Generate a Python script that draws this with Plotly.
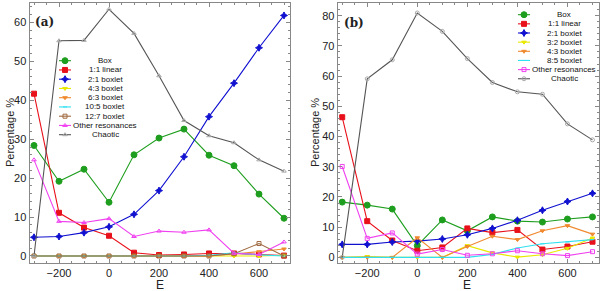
import plotly.graph_objects as go

E = [-300, -200, -100, 0, 100, 200, 300, 400, 500, 600, 700]

# Panel (a)
box_a = [28.4, 19.2, 22.3, 13.8, 26.0, 30.3, 32.6, 25.9, 23.2, 15.9, 9.7]
lin11_a = [41.7, 11.1, 7.3, 5.2, 0.85, 0.25, 0.4, 0.65, 0.65, 0.4, 0.1]
b21_a = [4.8, 5.0, 6.0, 7.5, 10.7, 16.8, 25.5, 35.8, 44.4, 53.5, 61.8]
b43_a = [0, 0, 0, 0, 0, 0, 0, 0, 0, 0, 0.2]
b63_a = [0, 0, 0, 0, 0, 0, 0, 0, 0.5, 1.1, 1.8]
b105_a = [0, 0, 0, 0, 0, 0, 0, 0.2, 0.8, 0.3, 0]
b127_a = [0, 0, 0, 0, 0, 0, 0, 0, 0.6, 3.2, 0]
other_a = [24.7, 8.9, 8.6, 9.6, 5.0, 6.4, 6.1, 6.7, 0.7, 0.4, 3.6]
chaotic_a = [0, 55.3, 55.4, 63.4, 57.2, 46.3, 34.8, 30.9, 29.1, 24.7, 21.8]

# Panel (b)
box_b = [18.3, 17.3, 16.0, 3.9, 12.4, 8.8, 13.4, 12.0, 11.7, 12.7, 13.4]
lin11_b = [46.4, 12.0, 5.6, 2.2, 3.3, 9.6, 8.2, 9.1, 2.6, 3.6, 5.2]
b21_b = [4.3, 4.3, 5.1, 5.4, 6.1, 7.5, 9.6, 12.3, 15.6, 18.5, 21.2]
b32_b = [0, 0.3, 0, 0, 0, 3.9, 1.5, 0.1, 0.9, 3.0, 6.4]
b43_b = [0, 0, 0, 6.5, 0, 3.6, 7.0, 5.9, 8.8, 10.5, 7.7]
b85_b = [0, 0, 0, 0, 0, 0, 1.0, 3.1, 4.5, 5.1, 5.9]
other_b = [30.1, 6.3, 8.1, 1.1, 2.6, 0.7, 1.2, 2.2, 1.2, 0.6, 1.9]
chaotic_b = [0, 59.1, 65.4, 80.9, 74.8, 65.8, 57.9, 54.8, 54.0, 44.2, 38.9]

GREEN = "#1e9e1e"
RED = "#e8101a"
BLUE = "#1010d0"
YELLOW = "#e8e800"
ORANGE = "#f08a30"
CYAN = "#30e0f0"
BROWN = "#a06a40"
MAGENTA = "#f040f0"
GRAY = "#555555"

series_a = [
    ("Box", box_a, GREEN, "circle", 6),
    ("1:1 linear", lin11_a, RED, "square", 5),
    ("2:1 boxlet", b21_a, BLUE, "star-diamond", 5),
    ("4:3 boxlet", b43_a, YELLOW, "triangle-down", 4),
    ("6:3 boxlet", b63_a, ORANGE, "triangle-down", 4),
    ("10:5 boxlet", b105_a, CYAN, "line-ew", 3),
    ("12:7 boxlet", b127_a, BROWN, "square-open", 4),
    ("Other resonances", other_a, MAGENTA, "triangle-up-open", 4),
    ("Chaotic", chaotic_a, GRAY, "triangle-up-open", 4),
]
series_b = [
    ("Box", box_b, GREEN, "circle", 6),
    ("1:1 linear", lin11_b, RED, "square", 5),
    ("2:1 boxlet", b21_b, BLUE, "star-diamond", 5),
    ("3:2 boxlet", b32_b, YELLOW, "triangle-down", 4),
    ("4:3 boxlet", b43_b, ORANGE, "triangle-down", 4),
    ("8:5 boxlet", b85_b, CYAN, "line-ew", 3),
    ("Other resonances", other_b, MAGENTA, "square-open", 4),
    ("Chaotic", chaotic_b, GRAY, "circle-open", 4),
]

fig = go.Figure()

def add_series(series, xa, ya):
    for name, vals, col, sym, sz in series:
        mcol = "#aaaaaa" if name == "Chaotic" else col
        fig.add_trace(go.Scatter(
            x=E, y=vals, mode="lines+markers", name=name,
            xaxis=xa, yaxis=ya, showlegend=False,
            line=dict(color=col, width=1.1),
            marker=dict(symbol=sym, size=sz, color=mcol,
                        line=dict(color=mcol, width=1)),
        ))

add_series(series_a, "x", "y")
add_series(series_b, "x2", "y2")

TXT = "Liberation Sans, Arial"
annotations = []

def add_legend(series, mx, tx, y0, dy):
    for i, (name, vals, col, sym, sz) in enumerate(series):
        yy = y0 + i * dy
        mcol = "#aaaaaa" if name == "Chaotic" else col
        fig.add_trace(go.Scatter(
            x=[mx - 6, mx + 6], y=[yy, yy], mode="lines",
            xaxis="x3", yaxis="y3", showlegend=False, hoverinfo="skip",
            line=dict(color=col, width=1.1)))
        fig.add_trace(go.Scatter(
            x=[mx], y=[yy], mode="markers",
            xaxis="x3", yaxis="y3", showlegend=False, hoverinfo="skip",
            marker=dict(symbol=sym, size=sz, color=mcol,
                        line=dict(color=mcol, width=1))))
        annotations.append(dict(
            x=tx, y=yy, xref="x3", yref="y3", text=name, showarrow=False,
            xanchor="center", yanchor="middle",
            font=dict(family=TXT, size=8, color="#111")))

add_legend(series_a, 65, 105, 60.7, 9.25)
add_legend(series_b, 524, 564, 14.7, 9.15)

SERIF = dict(family="DejaVu Serif, Liberation Serif", size=12, color="#222")
annotations += [
    dict(x=33, y=22, xref="x3", yref="y3", text="<b>(a)</b>", showarrow=False,
         xanchor="left", yanchor="middle", font=SERIF),
    dict(x=342, y=22.5, xref="x3", yref="y3", text="<b>(b)</b>", showarrow=False,
         xanchor="left", yanchor="middle", font=SERIF),
    dict(x=160, y=285, xref="x3", yref="y3", text="E", showarrow=False,
         xanchor="center", yanchor="middle", font=dict(family=TXT, size=12, color="#222")),
    dict(x=467, y=285, xref="x3", yref="y3", text="E", showarrow=False,
         xanchor="center", yanchor="middle", font=dict(family=TXT, size=12, color="#222")),
    dict(x=10, y=133, xref="x3", yref="y3", text="Percentage %", showarrow=False,
         textangle=-90, xanchor="center", yanchor="middle",
         font=dict(family=TXT, size=11, color="#222")),
    dict(x=315, y=133, xref="x3", yref="y3", text="Percentage %", showarrow=False,
         textangle=-90, xanchor="center", yanchor="middle",
         font=dict(family=TXT, size=11, color="#222")),
]

FONT = dict(family=TXT, size=11, color="#222")
FRAME = "#888888"

def xaxis_cfg(domain, anchor):
    return dict(domain=domain, anchor=anchor, range=[-318, 724],
                tickvals=[-200, 0, 200, 400, 600], automargin=False,
                ticks="inside", ticklen=4, tickcolor=FRAME, showline=True,
                linecolor=FRAME, linewidth=1, mirror="allticks", showgrid=False,
                zeroline=False, tickfont=FONT,
                minor=dict(dtick=50, ticklen=2, ticks="inside", tickcolor=FRAME))

def yaxis_cfg(anchor, rng, top):
    return dict(domain=[1 - 263 / 291, 1 - 3 / 291], anchor=anchor, range=rng,
                tickvals=list(range(0, top + 1, 10)), automargin=False,
                ticks="inside", ticklen=4, tickcolor=FRAME, showline=True,
                linecolor=FRAME, linewidth=1, mirror="allticks", showgrid=False,
                zeroline=False, tickfont=FONT,
                minor=dict(dtick=2, ticklen=2, ticks="inside", tickcolor=FRAME))

fig.update_layout(
    width=600, height=291,
    margin=dict(l=0, r=0, t=0, b=0, autoexpand=False),
    paper_bgcolor="white", plot_bgcolor="rgba(0,0,0,0)",
    template="none",
    xaxis=xaxis_cfg([29.5 / 600, 290 / 600], "y"),
    yaxis=yaxis_cfg("x", [-1.8, 65], 60),
    xaxis2=xaxis_cfg([337.7 / 600, 598.5 / 600], "y2"),
    yaxis2=yaxis_cfg("x2", [-1.85, 84.2], 80),
    xaxis3=dict(domain=[0, 1], range=[0, 600], visible=False, anchor="y3",
                fixedrange=True, automargin=False),
    yaxis3=dict(domain=[0, 1], range=[291, 0], visible=False, anchor="x3",
                fixedrange=True, automargin=False),
    annotations=annotations,
    showlegend=False,
)

fig.write_html("out.html", config={"displayModeBar": False},
               post_script="document.body.style.margin='0';document.body.style.overflow='hidden';")
